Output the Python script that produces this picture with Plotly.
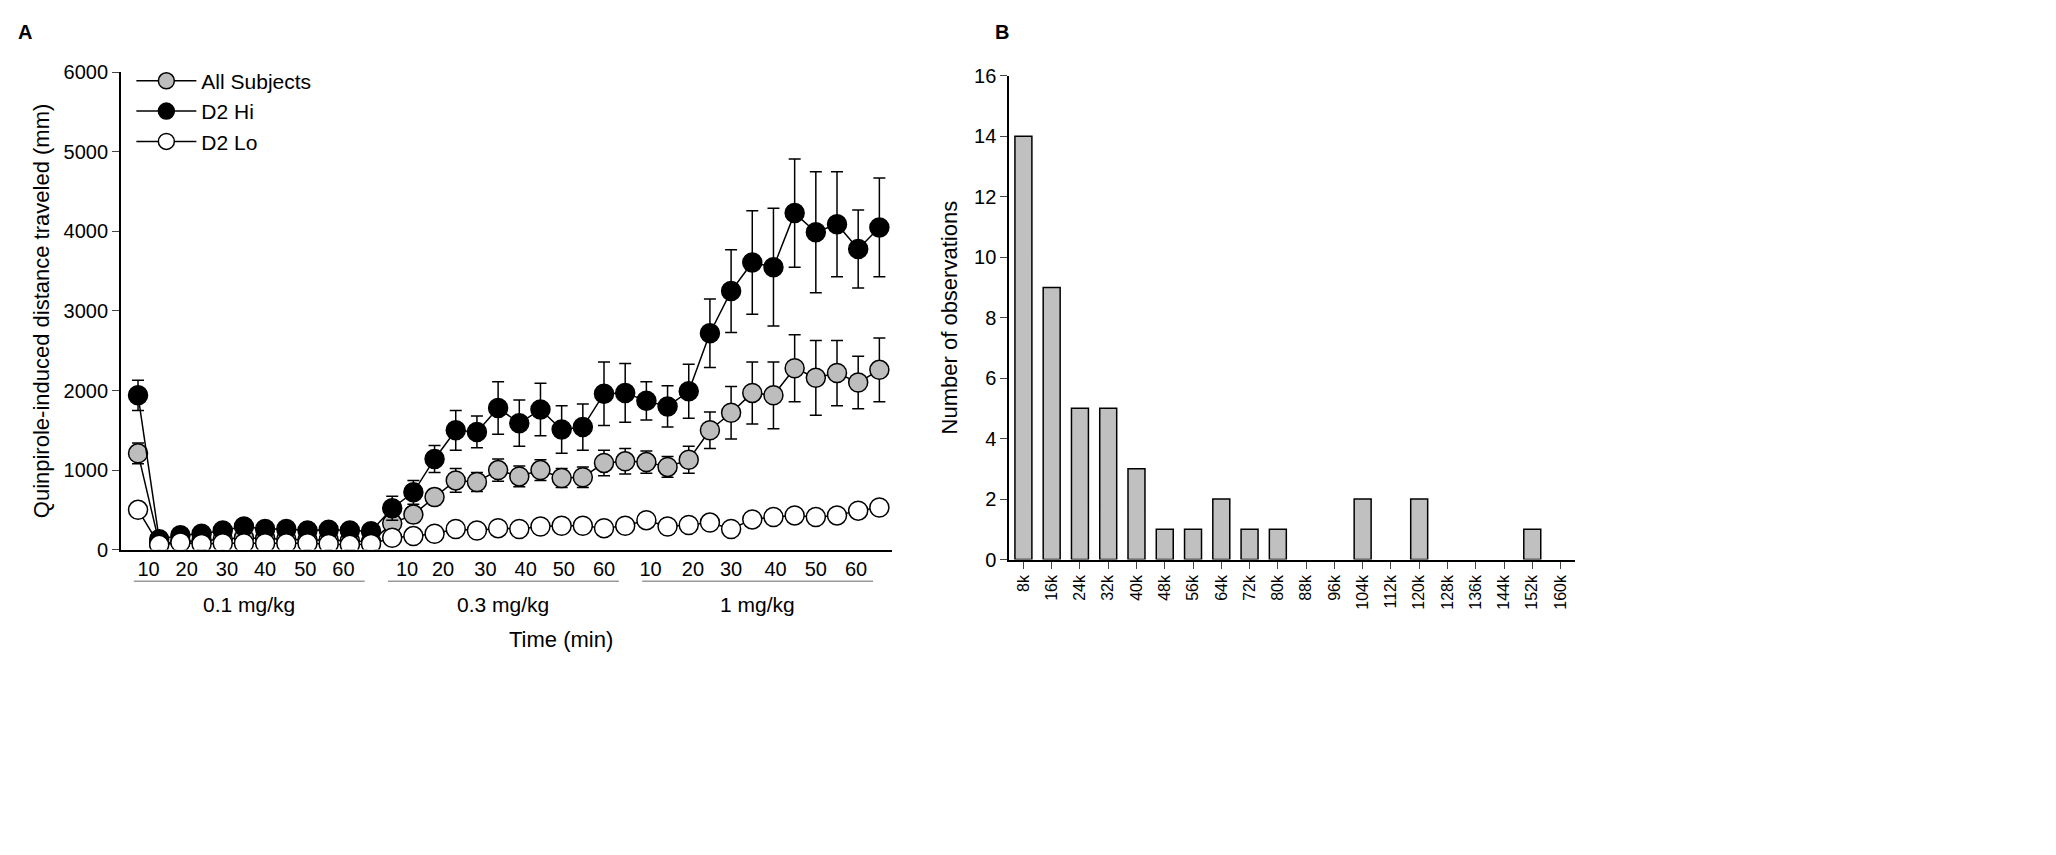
import plotly.graph_objects as go
from plotly.subplots import make_subplots

# Panel A data: 3 dose blocks x 12 time bins (5 min)
idx = list(range(1, 37))
hi = [1940, 130, 180, 200, 240, 290, 260, 260, 240, 250, 240, 230,
      520, 720, 1140, 1500, 1480, 1780, 1590, 1760, 1510, 1540, 1960, 1970,
      1870, 1800, 1990, 2720, 3250, 3610, 3550, 4230, 3990, 4090, 3780, 4050]
hi_err = [190, 40, 40, 40, 50, 50, 50, 50, 40, 50, 40, 40,
          150, 150, 170, 250, 200, 330, 290, 330, 300, 290, 400, 370,
          240, 260, 340, 430, 520, 650, 740, 680, 760, 660, 490, 620]
all_s = [1210, 80, 100, 110, 130, 150, 140, 130, 120, 120, 110, 100,
         330, 440, 660, 870, 850, 1000, 920, 1000, 900, 910, 1090, 1110,
         1100, 1040, 1130, 1500, 1720, 1970, 1940, 2280, 2160, 2220, 2100, 2260]
all_err = [130, 30, 30, 30, 30, 30, 30, 30, 30, 30, 30, 30,
           80, 100, 100, 150, 120, 140, 130, 130, 120, 130, 160, 160,
           140, 130, 170, 230, 330, 390, 420, 420, 470, 410, 330, 400]
lo = [500, 60, 90, 70, 80, 80, 80, 80, 80, 70, 60, 70,
      150, 170, 200, 260, 240, 270, 260, 290, 300, 300, 270, 300,
      370, 290, 310, 340, 260, 380, 410, 430, 410, 430, 490, 530]
lo_err = [40, 20, 20, 20, 20, 20, 20, 20, 20, 20, 20, 20,
          30, 30, 30, 40, 40, 40, 40, 40, 40, 40, 40, 40,
          50, 50, 50, 60, 50, 60, 70, 70, 60, 70, 80, 80]
time_ticks = [1.5, 3.3, 5.2, 7.0, 8.9, 10.7, 13.7, 15.4, 17.4, 19.3, 21.1, 23.0,
              25.2, 27.2, 29.0, 31.1, 33.0, 34.9]
time_labels = ["10", "20", "30", "40", "50", "60"] * 3
doses = ["0.1 mg/kg", "0.3 mg/kg", "1 mg/kg"]

# Panel B data
bins = ["8k", "16k", "24k", "32k", "40k", "48k", "56k", "64k", "72k", "80k",
        "88k", "96k", "104k", "112k", "120k", "128k", "136k", "144k", "152k", "160k"]
counts = [14, 9, 5, 5, 3, 1, 1, 2, 1, 1, 0, 0, 2, 0, 2, 0, 0, 0, 1, 0]

font = "Liberation Sans, Arial, sans-serif"
fig = make_subplots(rows=1, cols=2)

for name, y, e, col in [("All Subjects", all_s, all_err, "#bdbdbd"),
                        ("D2 Hi", hi, hi_err, "black"),
                        ("D2 Lo", lo, lo_err, "white")]:
    fig.add_trace(go.Scatter(
        x=idx, y=y, name=name, mode="lines+markers",
        line=dict(color="black", width=1.5),
        marker=dict(size=19, color=col, line=dict(color="black", width=1.5)),
        error_y=dict(array=e, color="black", thickness=1.5, width=6),
    ), row=1, col=1)

# no outline for empty bins
bar_lw = [1.5 if c > 0 else 0 for c in counts]
fig.add_trace(go.Bar(x=bins, y=counts, width=0.6, showlegend=False,
                     marker=dict(color="#c0c0c0", line=dict(color="black", width=bar_lw))),
              row=1, col=2)

fig.update_layout(
    width=2056, height=855, plot_bgcolor="white", paper_bgcolor="white",
    font=dict(family=font, size=20, color="black"),
    margin=dict(l=0, r=0, t=0, b=0),
    legend=dict(x=0.06, y=0.95, xanchor="left", yanchor="top",
                font=dict(size=21), bgcolor="rgba(0,0,0,0)", itemwidth=60),
)
fig.update_xaxes(domain=[0.055, 0.43], range=[0.2, 36.6], tickvals=time_ticks,
                 ticktext=time_labels, showline=True, linecolor="black", linewidth=2,
                 ticks="outside", ticklen=0, showgrid=False, zeroline=False, row=1, col=1)
fig.update_yaxes(domain=[0.363, 0.936], range=[0, 6000], dtick=1000,
                 showline=True, linecolor="black", linewidth=2, ticks="outside",
                 ticklen=7, showgrid=False, zeroline=False,
                 title=dict(text="Quinpirole-induced distance traveled (mm)", font=dict(size=22),
                            standoff=8), row=1, col=1)
fig.update_xaxes(domain=[0.487, 0.762], tickangle=-90, tickfont=dict(size=16),
                 showline=True, linecolor="black", linewidth=2, ticks="outside",
                 ticklen=7, showgrid=False, row=1, col=2)
fig.update_yaxes(domain=[0.351, 0.932], range=[0, 16], dtick=2,
                 showline=True, linecolor="black", linewidth=2, ticks="outside",
                 ticklen=7, showgrid=False, zeroline=False,
                 title=dict(text="Number of observations", font=dict(size=22), standoff=10),
                 row=1, col=2)

# dose block underlines and labels
for i, d in enumerate(doses):
    x0, x1 = 0.8 + 12 * i, 11.7 + 12 * i
    fig.add_shape(type="line", xref="x", yref="paper", x0=x0, x1=x1, y0=0.325, y1=0.325,
                  line=dict(color="#999999", width=1.5))
    fig.add_annotation(x=(x0 + x1) / 2, y=0.313, xref="x", yref="paper", text=d,
                       showarrow=False, yanchor="top", font=dict(size=21))
fig.add_annotation(x=0.2425, y=0.272, xref="paper", yref="paper", text="Time (min)",
                   showarrow=False, yanchor="top", font=dict(size=22))
fig.add_annotation(x=0.004, y=1.0, xref="paper", yref="paper", text="<b>A</b>",
                   showarrow=False, xanchor="left", yanchor="top", font=dict(size=20))
fig.add_annotation(x=0.479, y=1.0, xref="paper", yref="paper", text="<b>B</b>",
                   showarrow=False, xanchor="left", yanchor="top", font=dict(size=20))

fig.write_html("out.html")
